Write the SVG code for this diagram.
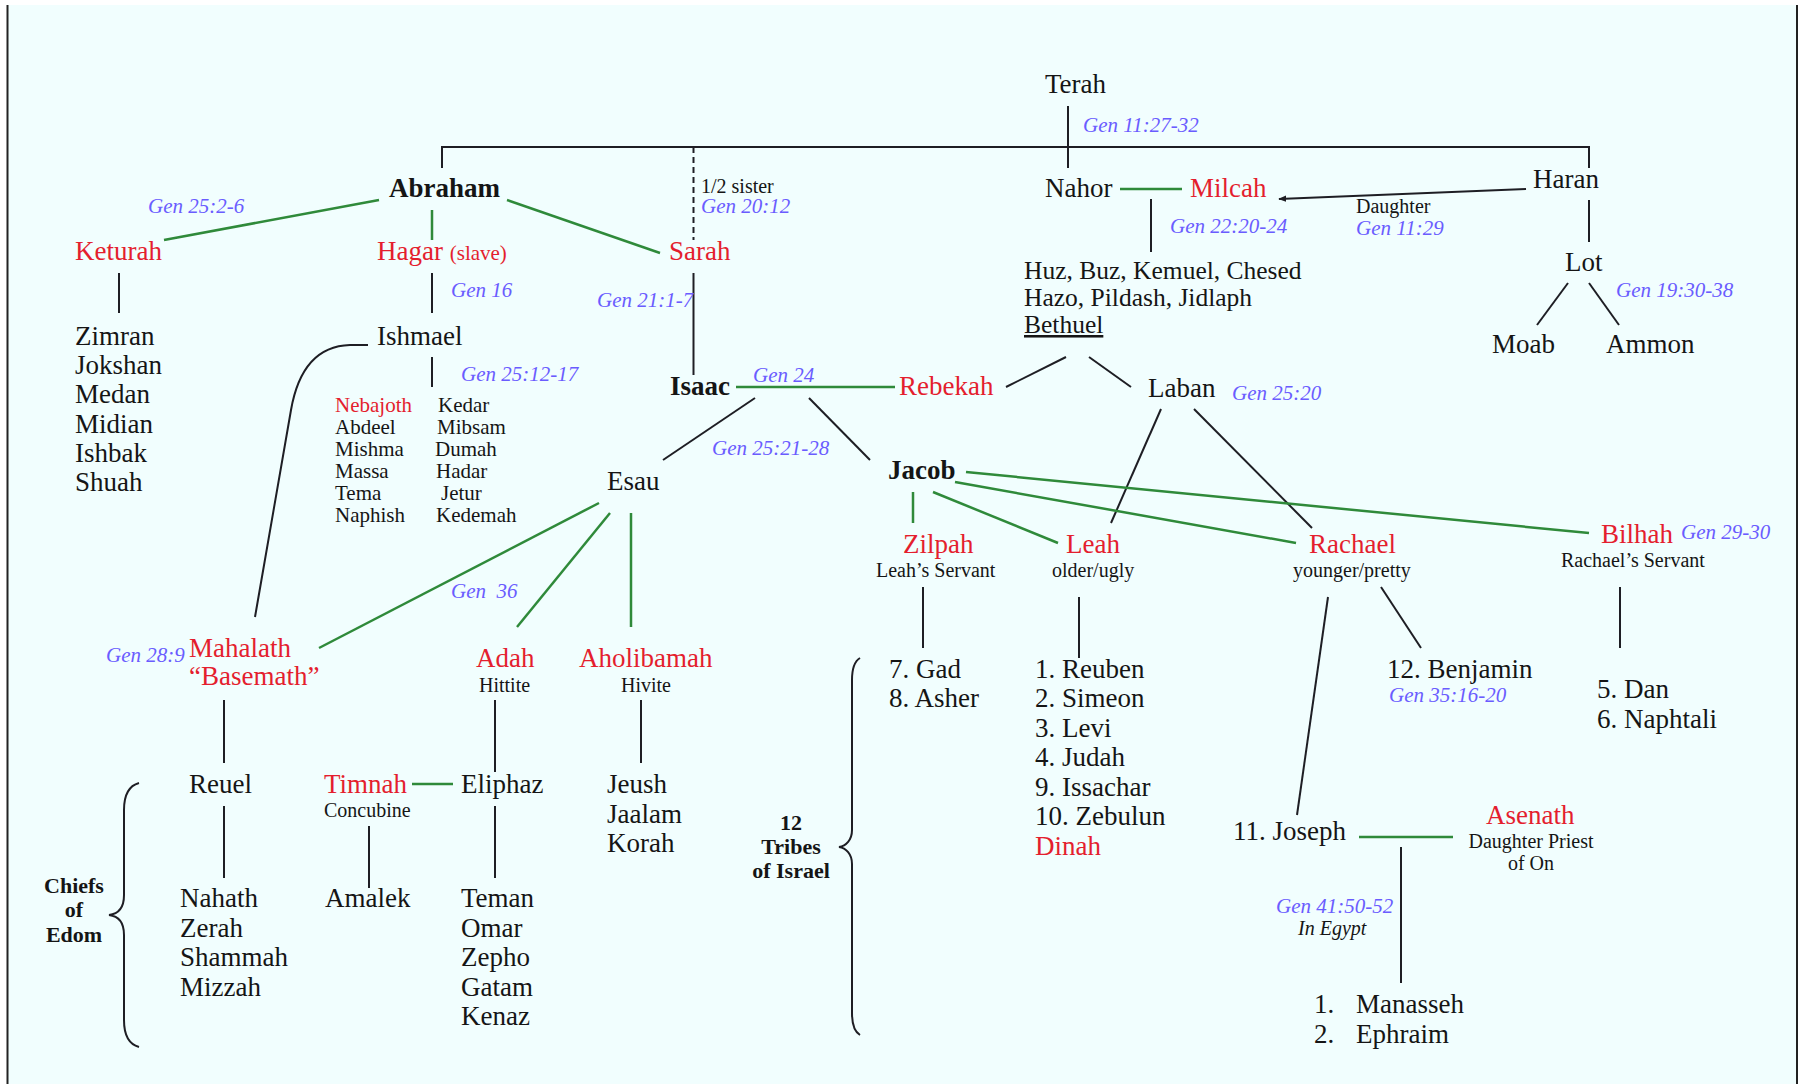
<svg xmlns="http://www.w3.org/2000/svg" width="1803" height="1084" viewBox="0 0 1803 1084">
<style>
text{font-family:"Liberation Serif","Times New Roman",serif;fill:#151515}
.n{font-size:27px}
.m{font-size:25.5px}
.b{font-weight:bold}
.r{fill:#E41E2E}
.ref{font-size:21px;font-style:italic;fill:#6A5CFF}
.s{font-size:21px}
.s2{font-size:20px}
.t{font-size:22px;font-weight:bold;text-anchor:middle}
.k{stroke:#1E1E24;stroke-width:2;fill:none}
.gr{stroke:#2F8A3A;stroke-width:2.5;fill:none}
</style>
<defs>
<marker id="ah" viewBox="0 0 10 10" refX="9" refY="5" markerWidth="8" markerHeight="8" orient="auto-start-reverse" markerUnits="userSpaceOnUse">
<path d="M0,1 L10,5 L0,9 Z" fill="#1E1E24"/>
</marker>
</defs>
<rect x="0" y="0" width="1803" height="1084" fill="#ffffff"/>
<rect x="8" y="5" width="1789" height="1079" fill="#F1FEFE"/>
<line x1="7.5" y1="5" x2="7.5" y2="1084" stroke="#222" stroke-width="2"/>
<line x1="1797" y1="5" x2="1797" y2="1084" stroke="#222" stroke-width="2"/>

<g id="connectors">
<polyline class="k" points="442,168 442,147 1589,147 1589,168"/>
<line class="k" x1="1068" y1="106" x2="1068" y2="168"/>
<line class="k" x1="693.5" y1="147" x2="693.5" y2="240" stroke-dasharray="6,4"/>
<line class="k" x1="693.5" y1="273" x2="693.5" y2="375"/>
<line class="k" x1="119" y1="273" x2="119" y2="313"/>
<line class="k" x1="432" y1="273" x2="432" y2="313"/>
<line class="k" x1="432" y1="357" x2="432" y2="387"/>
<path class="k" d="M368,345 L350,345 C316,346 298,370 291,410 L255,617"/>
<line class="k" x1="1151" y1="199" x2="1151" y2="252"/>
<line class="k" x1="1589" y1="200" x2="1589" y2="242"/>
<line class="k" x1="1526" y1="189" x2="1279" y2="199" marker-end="url(#ah)"/>
<line class="k" x1="1568" y1="283" x2="1537" y2="325"/>
<line class="k" x1="1589" y1="283" x2="1619" y2="325"/>
<line class="k" x1="1066" y1="357" x2="1006" y2="387"/>
<line class="k" x1="1089" y1="357" x2="1131" y2="387"/>
<line class="k" x1="755" y1="398" x2="663" y2="460"/>
<line class="k" x1="809" y1="398" x2="870" y2="460"/>
<line class="k" x1="1161" y1="409" x2="1111" y2="523"/>
<line class="k" x1="1194" y1="409" x2="1312" y2="528"/>
<line class="k" x1="923" y1="587" x2="923" y2="648"/>
<line class="k" x1="1079" y1="597" x2="1079" y2="658"/>
<line class="k" x1="1620" y1="587" x2="1620" y2="648"/>
<line class="k" x1="1328" y1="597" x2="1297" y2="815"/>
<line class="k" x1="1381" y1="587" x2="1421" y2="648"/>
<line class="k" x1="224" y1="700" x2="224" y2="763"/>
<line class="k" x1="495" y1="700" x2="495" y2="772"/>
<line class="k" x1="641" y1="700" x2="641" y2="763"/>
<line class="k" x1="224" y1="806" x2="224" y2="878"/>
<line class="k" x1="369" y1="826" x2="369" y2="888"/>
<line class="k" x1="495" y1="806" x2="495" y2="878"/>
<line class="k" x1="1401" y1="847" x2="1401" y2="983"/>
<path class="k" d="M139,783 C128,786 124,795 124,810 L124,895 C124,908 118,914 109,915 C118,916 124,922 124,935 L124,1020 C124,1035 128,1044 139,1047"/>
<path class="k" d="M860,658 C855,661 852,668 852,680 L852,830 C852,840 846,846 839,847 C846,848 852,854 852,864 L852,1013 C852,1025 855,1032 860,1035"/>
<line class="gr" x1="379" y1="200" x2="164" y2="240"/>
<line class="gr" x1="432" y1="210" x2="432" y2="240"/>
<line class="gr" x1="507" y1="200" x2="660" y2="253"/>
<line class="gr" x1="1120" y1="189" x2="1182" y2="189"/>
<line class="gr" x1="736" y1="387" x2="895" y2="387"/>
<line class="gr" x1="599" y1="503" x2="319" y2="648"/>
<line class="gr" x1="610" y1="513" x2="517" y2="627"/>
<line class="gr" x1="631" y1="513" x2="631" y2="627"/>
<line class="gr" x1="913" y1="492" x2="913" y2="523"/>
<line class="gr" x1="933" y1="492" x2="1058" y2="543"/>
<line class="gr" x1="955" y1="482" x2="1296" y2="543"/>
<line class="gr" x1="966" y1="472" x2="1589" y2="533"/>
<line class="gr" x1="412" y1="784" x2="453" y2="784"/>
<line class="gr" x1="1359" y1="837" x2="1453" y2="837"/>
</g>

<g id="terah"><text class="n" x="1045" y="93">Terah</text><text class="ref" x="1083" y="132">Gen 11:27-32</text></g>
<g id="abraham"><text class="n b" x="389" y="197">Abraham</text><text class="ref" x="148" y="213">Gen 25:2-6</text></g>
<g id="half-sister"><text class="s2" x="701" y="193">1/2 sister</text><text class="ref" x="701" y="213">Gen 20:12</text></g>
<g id="nahor"><text class="n" x="1045" y="197">Nahor</text></g>
<g id="milcah"><text class="n r" x="1190" y="197">Milcah</text><text class="ref" x="1170" y="233">Gen 22:20-24</text></g>
<g id="haran"><text class="n" x="1533" y="188">Haran</text><text class="s2" x="1356" y="213">Daughter</text><text class="ref" x="1356" y="235">Gen 11:29</text></g>
<g id="keturah"><text class="n r" x="75" y="260">Keturah</text></g>
<g id="hagar"><text class="n r" x="377" y="260">Hagar <tspan class="s">(slave)</tspan></text><text class="ref" x="451" y="297">Gen 16</text></g>
<g id="sarah"><text class="n r" x="669" y="260">Sarah</text><text class="ref" x="597" y="307">Gen 21:1-7</text></g>
<g id="nahor-sons"><text class="m" x="1024" y="279">Huz, Buz, Kemuel, Chesed</text><text class="m" x="1024" y="306">Hazo, Pildash, Jidlaph</text><text class="m" x="1024" y="333" text-decoration="underline">Bethuel</text></g>
<g id="lot"><text class="n" x="1565" y="271">Lot</text><text class="ref" x="1616" y="297">Gen 19:30-38</text></g>
<g id="moab"><text class="n" x="1492" y="353">Moab</text></g>
<g id="ammon"><text class="n" x="1606" y="353">Ammon</text></g>
<g id="keturah-sons">
<text class="n" x="75" y="345">Zimran</text><text class="n" x="75" y="374">Jokshan</text><text class="n" x="75" y="403">Medan</text><text class="n" x="75" y="433">Midian</text><text class="n" x="75" y="462">Ishbak</text><text class="n" x="75" y="491">Shuah</text>
</g>
<g id="ishmael"><text class="n" x="377" y="345">Ishmael</text><text class="ref" x="461" y="381">Gen 25:12-17</text></g>
<g id="ishmael-sons">
<text class="s r" x="335" y="412">Nebajoth</text><text class="s" x="335" y="434">Abdeel</text><text class="s" x="335" y="456">Mishma</text><text class="s" x="335" y="478">Massa</text><text class="s" x="335" y="500">Tema</text><text class="s" x="335" y="522">Naphish</text>
<text class="s" x="438" y="412">Kedar</text><text class="s" x="437" y="434">Mibsam</text><text class="s" x="435" y="456">Dumah</text><text class="s" x="436" y="478">Hadar</text><text class="s" x="441" y="500">Jetur</text><text class="s" x="436" y="522">Kedemah</text>
</g>
<g id="isaac"><text class="n b" x="670" y="395">Isaac</text><text class="ref" x="753" y="382">Gen 24</text><text class="ref" x="712" y="455">Gen 25:21-28</text></g>
<g id="rebekah"><text class="n r" x="899" y="395">Rebekah</text></g>
<g id="laban"><text class="n" x="1148" y="397">Laban</text><text class="ref" x="1232" y="400">Gen 25:20</text></g>
<g id="esau"><text class="n" x="607" y="490">Esau</text><text class="ref" x="451" y="598" xml:space="preserve">Gen  36</text></g>
<g id="jacob"><text class="n b" x="888" y="479">Jacob</text></g>
<g id="zilpah"><text class="n r" x="903" y="553">Zilpah</text><text class="s2" x="876" y="577">Leah’s Servant</text></g>
<g id="leah"><text class="n r" x="1066" y="553">Leah</text><text class="s2" x="1052" y="577">older/ugly</text></g>
<g id="rachael"><text class="n r" x="1309" y="553">Rachael</text><text class="s2" x="1293" y="577">younger/pretty</text></g>
<g id="bilhah"><text class="n r" x="1601" y="543">Bilhah</text><text class="ref" x="1681" y="539">Gen 29-30</text><text class="s2" x="1561" y="567">Rachael’s Servant</text></g>
<g id="mahalath"><text class="ref" x="106" y="662">Gen 28:9</text><text class="n r" x="189" y="657">Mahalath</text><text class="n r" x="189" y="685">“Basemath”</text></g>
<g id="adah"><text class="n r" x="476" y="667">Adah</text><text class="s2" x="479" y="692">Hittite</text></g>
<g id="aholibamah"><text class="n r" x="579" y="667">Aholibamah</text><text class="s2" x="621" y="692">Hivite</text></g>
<g id="zilpah-sons"><text class="n" x="889" y="678">7. Gad</text><text class="n" x="889" y="707">8. Asher</text></g>
<g id="leah-sons">
<text class="n" x="1035" y="678">1. Reuben</text><text class="n" x="1035" y="707">2. Simeon</text><text class="n" x="1035" y="737">3. Levi</text><text class="n" x="1035" y="766">4. Judah</text><text class="n" x="1035" y="796">9. Issachar</text><text class="n" x="1035" y="825">10. Zebulun</text><text class="n r" x="1035" y="855">Dinah</text>
</g>
<g id="benjamin"><text class="n" x="1387" y="678">12. Benjamin</text><text class="ref" x="1389" y="702">Gen 35:16-20</text></g>
<g id="bilhah-sons"><text class="n" x="1597" y="698">5. Dan</text><text class="n" x="1597" y="728">6. Naphtali</text></g>
<g id="reuel"><text class="n" x="189" y="793">Reuel</text></g>
<g id="timnah"><text class="n r" x="324" y="793">Timnah</text><text class="s2" x="324" y="817">Concubine</text></g>
<g id="eliphaz"><text class="n" x="461" y="793">Eliphaz</text></g>
<g id="aholibamah-sons"><text class="n" x="607" y="793">Jeush</text><text class="n" x="607" y="823">Jaalam</text><text class="n" x="607" y="852">Korah</text></g>
<g id="tribes-label"><text class="t" x="791" y="830">12</text><text class="t" x="791" y="854">Tribes</text><text class="t" x="791" y="878">of Israel</text></g>
<g id="chiefs-label"><text class="t" x="74" y="893">Chiefs</text><text class="t" x="74" y="917">of</text><text class="t" x="74" y="942">Edom</text></g>
<g id="reuel-sons"><text class="n" x="180" y="907">Nahath</text><text class="n" x="180" y="937">Zerah</text><text class="n" x="180" y="966">Shammah</text><text class="n" x="180" y="996">Mizzah</text></g>
<g id="amalek"><text class="n" x="325" y="907">Amalek</text></g>
<g id="eliphaz-sons"><text class="n" x="461" y="907">Teman</text><text class="n" x="461" y="937">Omar</text><text class="n" x="461" y="966">Zepho</text><text class="n" x="461" y="996">Gatam</text><text class="n" x="461" y="1025">Kenaz</text></g>
<g id="joseph"><text class="n" x="1233" y="840">11. Joseph</text></g>
<g id="asenath"><text class="n r" x="1486" y="824">Asenath</text><text class="s2" x="1531" y="848" text-anchor="middle">Daughter Priest</text><text class="s2" x="1531" y="870" text-anchor="middle">of On</text></g>
<g id="egypt"><text class="ref" x="1276" y="913">Gen 41:50-52</text><text class="s2" x="1298" y="935" font-style="italic">In Egypt</text></g>
<g id="joseph-sons"><text class="n" x="1314" y="1013">1.</text><text class="n" x="1356" y="1013">Manasseh</text><text class="n" x="1314" y="1043">2.</text><text class="n" x="1356" y="1043">Ephraim</text></g>
</svg>
